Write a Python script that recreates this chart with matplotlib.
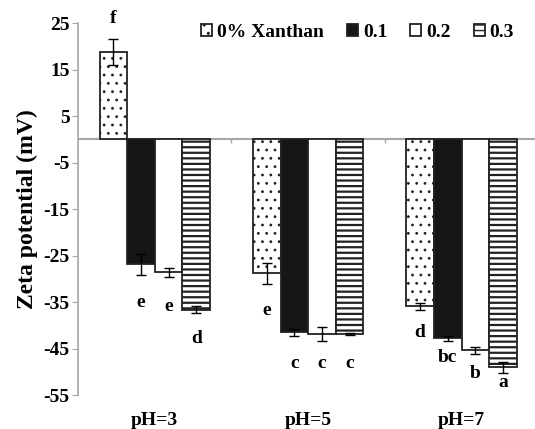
"""Zeta potential of emulsions at pH 3/5/7 with increasing xanthan."""

import matplotlib
import numpy as np

matplotlib.use("Agg")
import matplotlib.pyplot as plt

plt.rcParams["font.family"] = ["Liberation Serif", "DejaVu Serif"]
plt.rcParams["font.weight"] = "bold"
plt.rcParams["axes.unicode_minus"] = False

# ---------------------------------------------------------------------------
# Data
# ---------------------------------------------------------------------------
categories = ["pH=3", "pH=5", "pH=7"]
series = ["0% Xanthan", "0.1", "0.2", "0.3"]

zeta_0 = [18.7, -28.8, -35.9]
zeta_01 = [-26.9, -41.5, -42.8]
zeta_02 = [-28.6, -41.9, -45.4]
zeta_03 = [-36.6, -41.9, -49.0]

err_0 = [2.8, 2.3, 0.7]
err_01 = [2.3, 0.7, 0.6]
err_02 = [1.0, 1.5, 0.8]
err_03 = [0.8, 0.2, 1.2]

letters_0 = ["f", "e", "d"]
letters_01 = ["e", "c", "bc"]
letters_02 = ["e", "c", "b"]
letters_03 = ["d", "c", "a"]

# letter centre heights (mV), as placed in the original figure
letter_y_0 = [26.0, -36.8, -41.5]
letter_y_01 = [-35.1, -48.2, -46.9]
letter_y_02 = [-36.0, -48.2, -50.3]
letter_y_03 = [-42.8, -48.2, -52.3]

values = [zeta_0, zeta_01, zeta_02, zeta_03]
errors = [err_0, err_01, err_02, err_03]
letters = [letters_0, letters_01, letters_02, letters_03]
letter_ys = [letter_y_0, letter_y_01, letter_y_02, letter_y_03]

styles = [
    dict(facecolor="white", hatch="..", hlw=0.8),
    dict(facecolor="#161616", hatch=None, hlw=1.0),
    dict(facecolor="white", hatch=None, hlw=1.0),
    dict(facecolor="white", hatch="---", hlw=1.6),
]

fig = plt.figure(figsize=(5.35, 4.29), dpi=100)
ax = fig.add_axes([0.146, 0.079, 0.86, 0.867])

x = np.arange(len(categories))
width = 0.18

for i, (vals, errs, style, lab) in enumerate(zip(values, errors, styles, series)):
    pos = x + (i - 1.5) * width
    with plt.rc_context({"hatch.linewidth": style["hlw"]}):
        ax.bar(
            pos,
            vals,
            width,
            facecolor=style["facecolor"],
            hatch=style["hatch"],
            edgecolor="#222222",
            linewidth=1.3,
            label=lab,
            zorder=2,
        )
    ax.errorbar(
        pos,
        vals,
        yerr=errs,
        fmt="none",
        ecolor="black",
        elinewidth=1.0,
        capsize=3.5,
        capthick=1.0,
        zorder=3,
    )
    for xp, txt, ty in zip(pos, letters[i], letter_ys[i]):
        ax.text(xp, ty, txt, ha="center", va="center", fontsize=14, fontweight="bold")

ax.axhline(0, color="#a6a6a6", linewidth=1.5, zorder=1)
ax.vlines(x[:-1] + 0.5, -0.8, 0, color="#a6a6a6", linewidth=1.0)

ax.set_xlim(-0.5, len(categories) - 0.5)
ax.set_ylim(-55, 25)
ax.set_yticks(np.arange(-55, 26, 10))
ax.set_xticks(x)
ax.set_xticklabels(categories)
ax.tick_params(axis="x", length=0, pad=12, labelsize=14)
ax.tick_params(axis="y", length=4, color="#a6a6a6", labelsize=14, pad=2)
for lbl in ax.get_xticklabels() + ax.get_yticklabels():
    lbl.set_fontweight("bold")

for side in ["top", "right", "bottom"]:
    ax.spines[side].set_visible(False)
ax.spines["left"].set_color("#a6a6a6")
ax.spines["left"].set_linewidth(1.2)

ax.set_ylabel("Zeta potential (mV)", fontsize=17, fontweight="bold", labelpad=4)

ax.legend(
    loc="upper right",
    bbox_to_anchor=(0.985, 1.045),
    ncol=4,
    frameon=False,
    handlelength=0.55,
    handleheight=0.55,
    handletextpad=0.25,
    columnspacing=1.2,
    prop={"size": 14, "weight": "bold"},
)

fig.savefig("out.png", dpi=100)
